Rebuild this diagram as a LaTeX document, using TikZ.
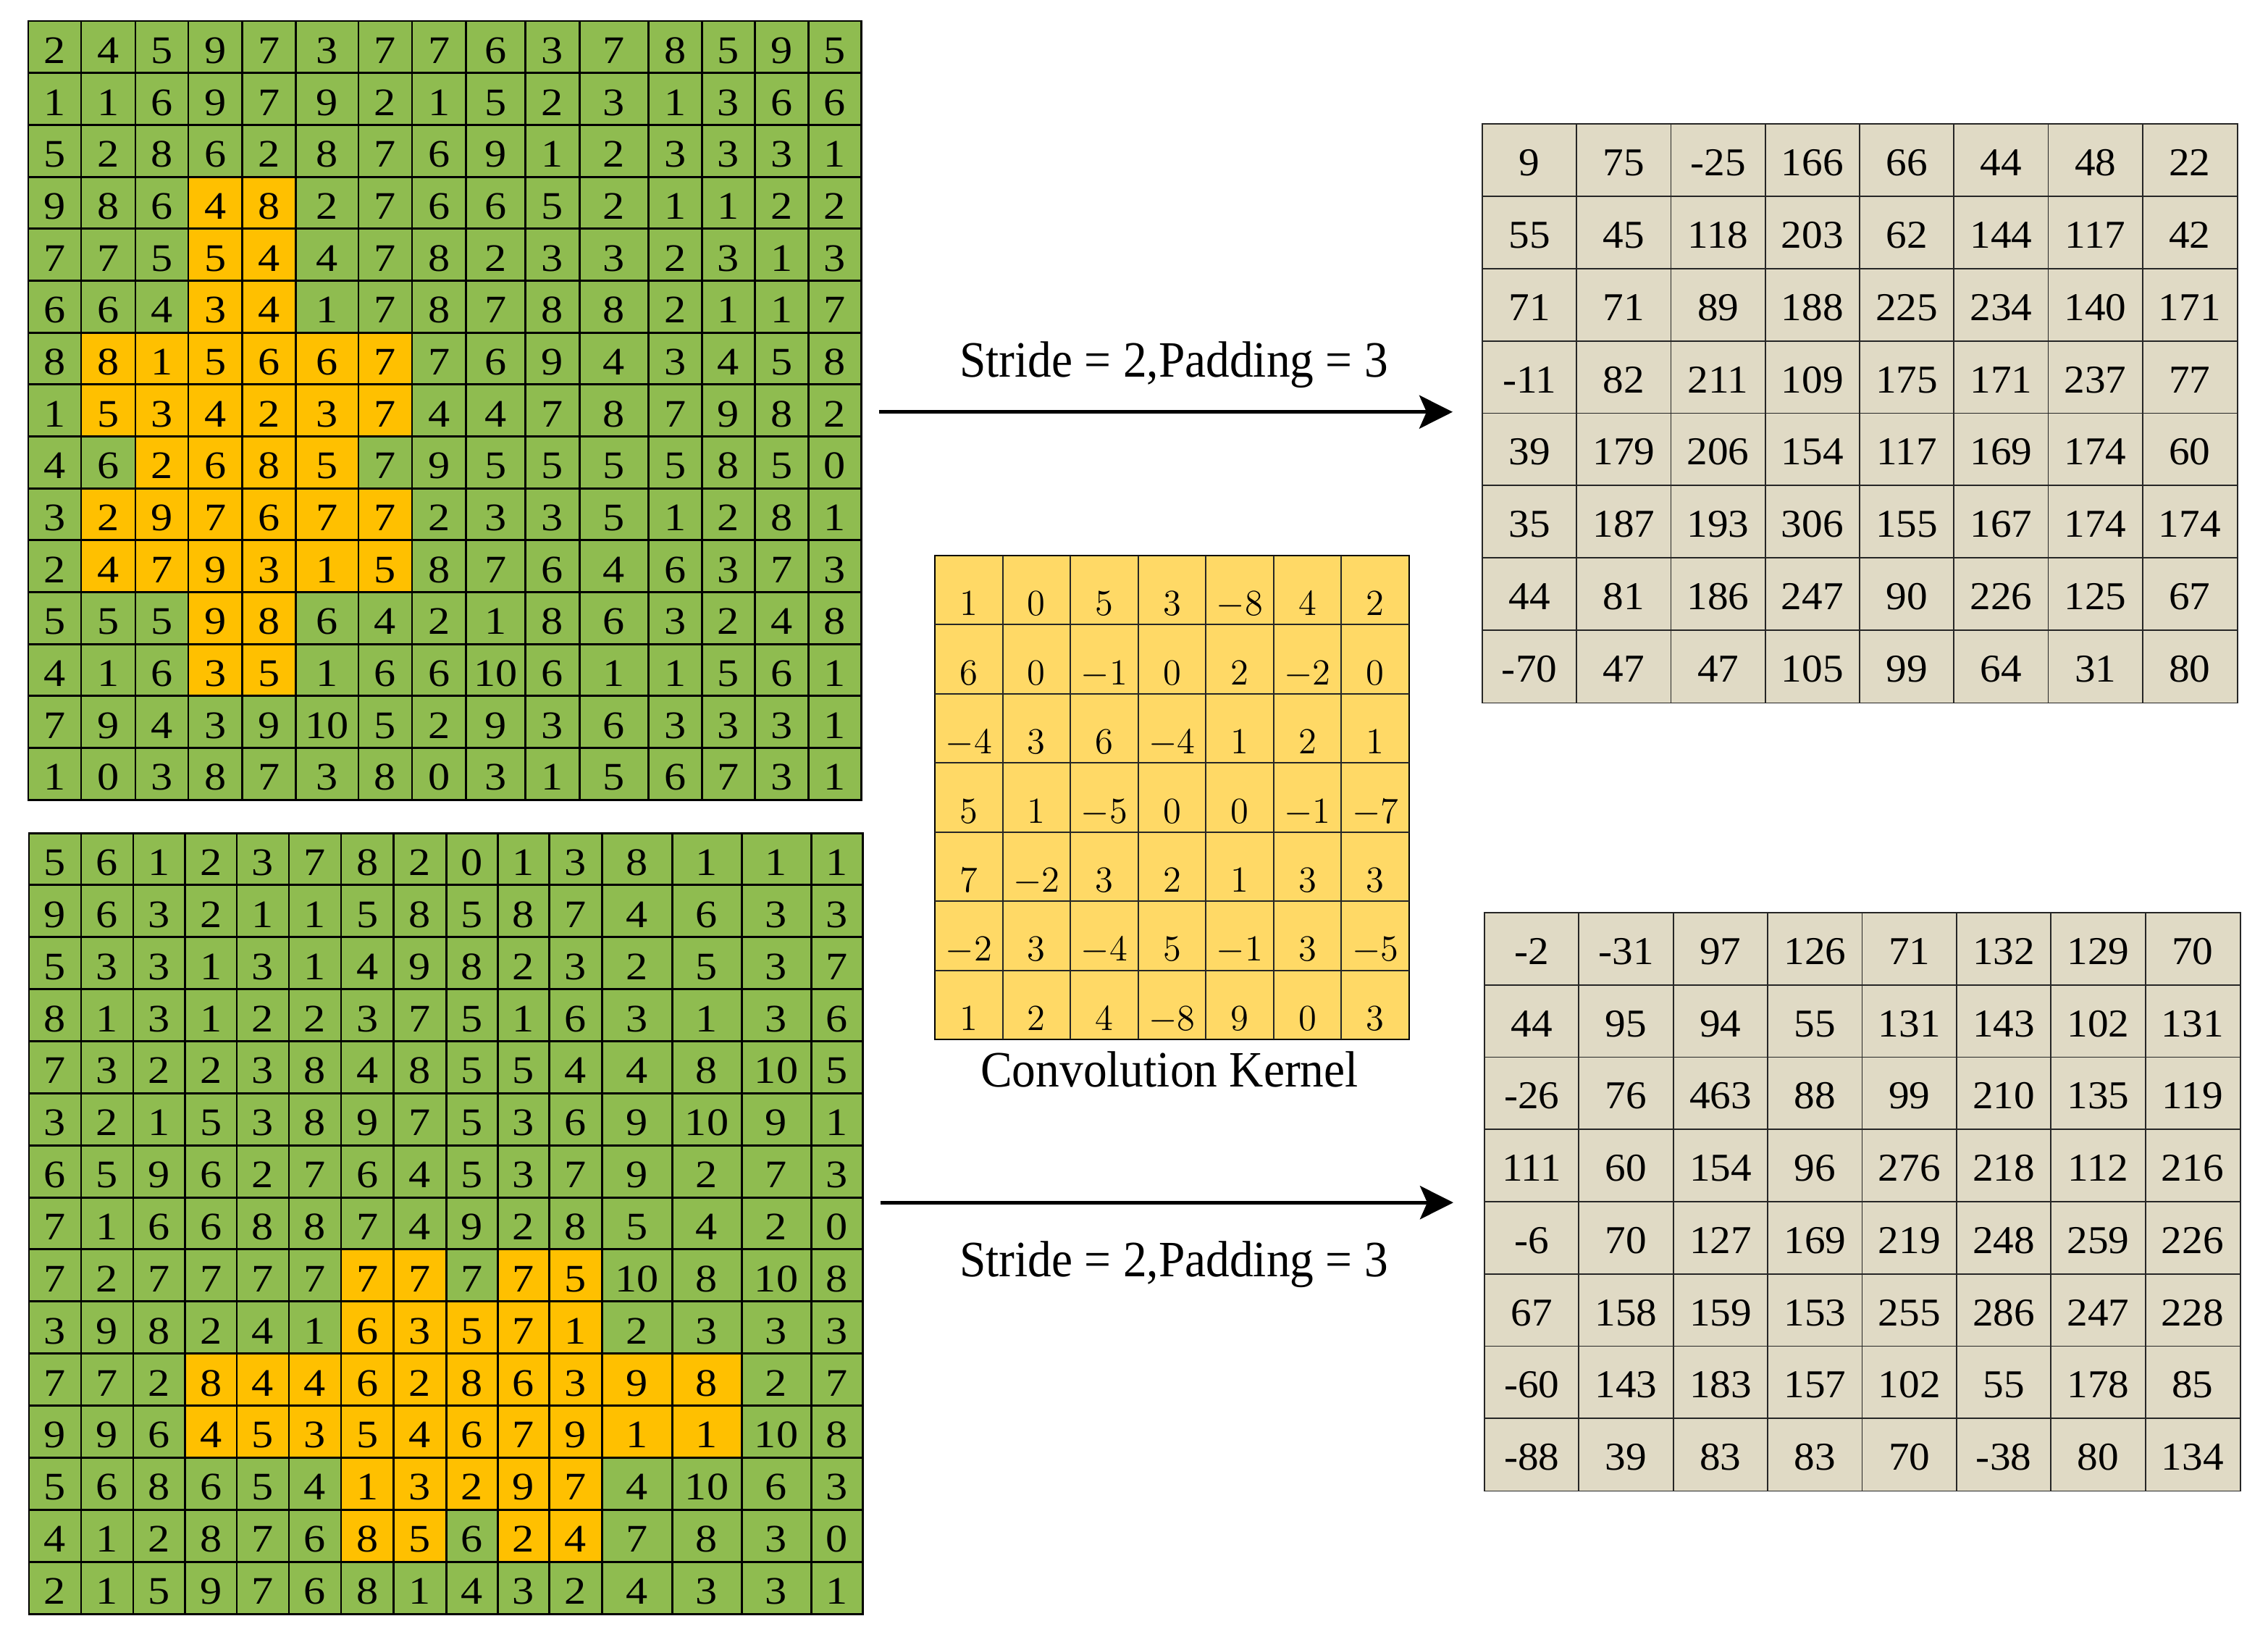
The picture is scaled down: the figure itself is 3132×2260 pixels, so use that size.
\documentclass[tikz,border=0pt]{standalone}
\usepackage[no-math]{fontspec}
\setmainfont{Liberation Serif}
\newfontfamily\gridfont[FakeStretch=1.12]{Liberation Serif}
\newfontfamily\outfont[FakeStretch=1.05]{Liberation Serif}
\newfontfamily\lblfont[FakeStretch=0.93]{Liberation Serif}
\usetikzlibrary{arrows.meta,calc}
\definecolor{gridgreen}{RGB}{143,188,80}
\definecolor{hilite}{RGB}{255,192,0}
\definecolor{kernyellow}{RGB}{255,217,102}
\definecolor{outtan}{RGB}{224,218,197}
\tikzset{
  gridline/.style={line width=0.85pt, black},
  thinline/.style={line width=0.55pt, black!85},
  ibox/.style={draw=black, line width=0.85pt, fill=gridgreen, inner sep=0pt, outer sep=0pt, anchor=north west},
  kbox/.style={draw=black, line width=0.55pt, fill=kernyellow, inner sep=0pt, outer sep=0pt, anchor=north west},
  obox/.style={draw=black!85, line width=0.55pt, fill=outtan, inner sep=0pt, outer sep=0pt, anchor=north west},
  incell/.style={font=\gridfont\fontsize{15.3}{18}\selectfont, inner sep=0pt, anchor=base},
  ocell/.style={font=\outfont\fontsize{15.5}{18}\selectfont, inner sep=0pt, anchor=base},
  kcell/.style={font=\fontsize{15.3}{18}\selectfont, inner sep=0pt, anchor=base},
  lbl/.style={font=\lblfont\fontsize{20}{24}\selectfont, inner sep=0pt, anchor=base},
  arr/.style={line width=1.3pt, -{Stealth[length=0.46cm, width=0.46cm, inset=0.1cm]}},
}
\def\XA{{39,112,187,260,334.5,408.5,495,569,643.5,725.5,800,895.5,969,1042.5,1116,1189}}
\def\XB{{40,112,184,255.5,327,399,471,543.5,616,687,758.5,831,928,1024,1120,1191}}
\begin{document}
\begin{tikzpicture}[x=0.01cm,y=-0.01cm]
\fill[white] (0,0) rectangle (3132,2260);
\useasboundingbox (0,0) rectangle (3132,2260);

% ---------------- top input grid ----------------
\node[ibox, minimum width=11.5cm, minimum height=10.75cm] (inA) at (39,29) {};
\foreach \r/\ca/\cb in {4/4/5,5/4/5,6/4/5,7/2/7,8/2/7,9/3/6,10/2/7,11/2/7,12/4/5,13/4/5}{
  \pgfmathsetmacro\xl{\XA[\ca-1]}
  \pgfmathsetmacro\xr{\XA[\cb]}
  \fill[hilite] (\xl,{29+(\r-1)*71.667}) rectangle (\xr,{29+\r*71.667});
}
\foreach \i in {0,...,15}{
  \pgfmathsetmacro\xx{\XA[\i]}
  \draw[gridline] (\xx,29) -- (\xx,1104);
  \draw[gridline] (39,{29+\i*71.667}) -- (1189,{29+\i*71.667});
}
\foreach \row [count=\r] in {
 {2,4,5,9,7,3,7,7,6,3,7,8,5,9,5},
 {1,1,6,9,7,9,2,1,5,2,3,1,3,6,6},
 {5,2,8,6,2,8,7,6,9,1,2,3,3,3,1},
 {9,8,6,4,8,2,7,6,6,5,2,1,1,2,2},
 {7,7,5,5,4,4,7,8,2,3,3,2,3,1,3},
 {6,6,4,3,4,1,7,8,7,8,8,2,1,1,7},
 {8,8,1,5,6,6,7,7,6,9,4,3,4,5,8},
 {1,5,3,4,2,3,7,4,4,7,8,7,9,8,2},
 {4,6,2,6,8,5,7,9,5,5,5,5,8,5,0},
 {3,2,9,7,6,7,7,2,3,3,5,1,2,8,1},
 {2,4,7,9,3,1,5,8,7,6,4,6,3,7,3},
 {5,5,5,9,8,6,4,2,1,8,6,3,2,4,8},
 {4,1,6,3,5,1,6,6,10,6,1,1,5,6,1},
 {7,9,4,3,9,10,5,2,9,3,6,3,3,3,1},
 {1,0,3,8,7,3,8,0,3,1,5,6,7,3,1}}{
  \foreach \v [count=\c] in \row {
    \pgfmathsetmacro\xl{\XA[\c-1]}
    \pgfmathsetmacro\xr{\XA[\c]}
    \node[incell] (a\r-\c) at ({(\xl+\xr)/2},{29+(\r-0.5)*71.667+22.5}) {\v};
  }
}

% ---------------- bottom input grid ----------------
\node[ibox, minimum width=11.51cm, minimum height=10.78cm] (inB) at (40,1150) {};
\foreach \r/\ca/\cb in {9/7/8,9/10/11,10/7/11,11/4/13,12/4/13,13/7/11,14/7/8,14/10/11}{
  \pgfmathsetmacro\xl{\XB[\ca-1]}
  \pgfmathsetmacro\xr{\XB[\cb]}
  \fill[hilite] (\xl,{1150+(\r-1)*71.867}) rectangle (\xr,{1150+\r*71.867});
}
\foreach \i in {0,...,15}{
  \pgfmathsetmacro\xx{\XB[\i]}
  \draw[gridline] (\xx,1150) -- (\xx,2228);
  \draw[gridline] (40,{1150+\i*71.867}) -- (1191,{1150+\i*71.867});
}
\foreach \row [count=\r] in {
 {5,6,1,2,3,7,8,2,0,1,3,8,1,1,1},
 {9,6,3,2,1,1,5,8,5,8,7,4,6,3,3},
 {5,3,3,1,3,1,4,9,8,2,3,2,5,3,7},
 {8,1,3,1,2,2,3,7,5,1,6,3,1,3,6},
 {7,3,2,2,3,8,4,8,5,5,4,4,8,10,5},
 {3,2,1,5,3,8,9,7,5,3,6,9,10,9,1},
 {6,5,9,6,2,7,6,4,5,3,7,9,2,7,3},
 {7,1,6,6,8,8,7,4,9,2,8,5,4,2,0},
 {7,2,7,7,7,7,7,7,7,7,5,10,8,10,8},
 {3,9,8,2,4,1,6,3,5,7,1,2,3,3,3},
 {7,7,2,8,4,4,6,2,8,6,3,9,8,2,7},
 {9,9,6,4,5,3,5,4,6,7,9,1,1,10,8},
 {5,6,8,6,5,4,1,3,2,9,7,4,10,6,3},
 {4,1,2,8,7,6,8,5,6,2,4,7,8,3,0},
 {2,1,5,9,7,6,8,1,4,3,2,4,3,3,1}}{
  \foreach \v [count=\c] in \row {
    \pgfmathsetmacro\xl{\XB[\c-1]}
    \pgfmathsetmacro\xr{\XB[\c]}
    \node[incell] (b\r-\c) at ({(\xl+\xr)/2},{1150+(\r-0.5)*71.867+22.5}) {\v};
  }
}

% ---------------- kernel ----------------
\node[kbox, minimum width=6.55cm, minimum height=6.68cm] (kern) at (1291,767) {};
\foreach \i in {1,...,6}{
  \draw[thinline] ({1291+\i*93.571},767) -- ({1291+\i*93.571},1435);
  \draw[thinline] (1291,{767+\i*95.429}) -- (1946,{767+\i*95.429});
}
\foreach \row [count=\r] in {
 {1,0,5,3,-8,4,2},
 {6,0,-1,0,2,-2,0},
 {-4,3,6,-4,1,2,1},
 {5,1,-5,0,0,-1,-7},
 {7,-2,3,2,1,3,3},
 {-2,3,-4,5,-1,3,-5},
 {1,2,4,-8,9,0,3}}{
  \foreach \v [count=\c] in \row {
    \node[kcell] (k\r-\c) at ({1291+(\c-0.5)*93.571},{767+(\r-0.5)*95.429+35}) {$\v$};
  }
}
\node[lbl] (kernlbl) at (1615,1500) {Convolution Kernel};

% ---------------- top output ----------------
\node[obox, minimum width=10.42cm, minimum height=7.99cm] (outA) at (2047,171) {};
\foreach \i in {1,...,7}{
  \draw[thinline] ({2047+\i*130.25},171) -- ({2047+\i*130.25},970);
  \draw[thinline] (2047,{171+\i*99.875}) -- (3089,{171+\i*99.875});
}
\foreach \row [count=\r] in {
 {9,75,-25,166,66,44,48,22},
 {55,45,118,203,62,144,117,42},
 {71,71,89,188,225,234,140,171},
 {-11,82,211,109,175,171,237,77},
 {39,179,206,154,117,169,174,60},
 {35,187,193,306,155,167,174,174},
 {44,81,186,247,90,226,125,67},
 {-70,47,47,105,99,64,31,80}}{
  \foreach \v [count=\c] in \row {
    \node[ocell] (p\r-\c) at ({2047+(\c-0.5)*130.25},{171+(\r-0.5)*99.875+21.5}) {\v};
  }
}

% ---------------- bottom output ----------------
\node[obox, minimum width=10.43cm, minimum height=7.98cm] (outB) at (2050,1260) {};
\foreach \i in {1,...,7}{
  \draw[thinline] ({2050+\i*130.375},1260) -- ({2050+\i*130.375},2058);
  \draw[thinline] (2050,{1260+\i*99.75}) -- (3093,{1260+\i*99.75});
}
\foreach \row [count=\r] in {
 {-2,-31,97,126,71,132,129,70},
 {44,95,94,55,131,143,102,131},
 {-26,76,463,88,99,210,135,119},
 {111,60,154,96,276,218,112,216},
 {-6,70,127,169,219,248,259,226},
 {67,158,159,153,255,286,247,228},
 {-60,143,183,157,102,55,178,85},
 {-88,39,83,83,70,-38,80,134}}{
  \foreach \v [count=\c] in \row {
    \node[ocell] (q\r-\c) at ({2050+(\c-0.5)*130.375},{1260+(\r-0.5)*99.75+21.5}) {\v};
  }
}

% ---------------- arrows and labels ----------------
\draw[arr] ($(inA.east |- outA.west)+(24,-2)$) coordinate (arrAs) -- ($(outA.west)+(-41,-2)$) coordinate (arrAe);
\draw[arr] ($(inB.east |- outB.west)+(24,1)$) coordinate (arrBs) -- ($(outB.west)+(-43,1)$) coordinate (arrBe);
\node[lbl] (lblA) at (1621,520) {Stride = 2,Padding = 3};
\node[lbl] (lblB) at (1621,1762) {Stride = 2,Padding = 3};
\end{tikzpicture}
\end{document}
